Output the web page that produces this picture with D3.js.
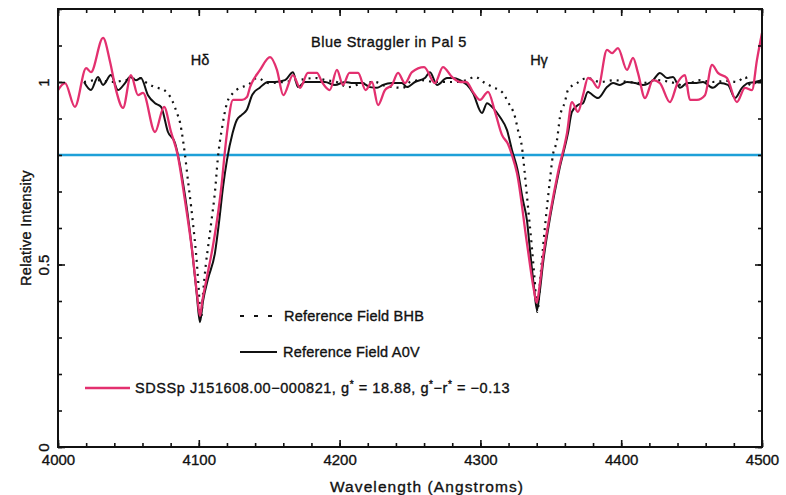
<!DOCTYPE html>
<html>
<head>
<meta charset="utf-8">
<script src="https://cdn.jsdelivr.net/npm/d3@7"></script>
<style>
  body { margin: 0; background: #fff; }
  svg text { font-family: "Liberation Sans", Arial, sans-serif; fill: #111; stroke: #111; stroke-width: 0.35px; }
</style>
</head>
<body>
<svg id="chart" width="786" height="495"></svg>
<script>
// Reference field BHB (dotted)
const bhbWave = [4018.5, 4028, 4038, 4048, 4058.2, 4062, 4068.9, 4075.3, 4081, 4084.5, 4086.6, 4088.8, 4090.2, 4092.3, 4094.5, 4096.5, 4098.5, 4100, 4101.5, 4103, 4105, 4107, 4109, 4111.5, 4113.5, 4116.5, 4120, 4124.3, 4129.3, 4135, 4141.3, 4150, 4160, 4170, 4183, 4190, 4198, 4206, 4215, 4225, 4232, 4245, 4250, 4258, 4268, 4280, 4290, 4296.2, 4303.3, 4308.9, 4316, 4319.6, 4324.6, 4326.7, 4329.5, 4331.5, 4334, 4336.5, 4338.5, 4340.5, 4342.5, 4344.5, 4347.3, 4349.4, 4351.5, 4354.4, 4356.5, 4360, 4362.2, 4368.6, 4376, 4385, 4395, 4405, 4415, 4425, 4435, 4445, 4455, 4465, 4475, 4482, 4488, 4492, 4498, 4500];
const bhbFlux = [1.0, 1.005, 1.0, 1.005, 1.011, 1.0, 0.986, 0.978, 0.95, 0.915, 0.89, 0.84, 0.80, 0.73, 0.66, 0.59, 0.51, 0.43, 0.35, 0.42, 0.50, 0.56, 0.62, 0.70, 0.79, 0.874, 0.942, 0.97, 0.984, 0.992, 1.011, 0.997, 1.0, 1.005, 1.011, 1.005, 1.0, 0.986, 0.995, 1.0, 0.99, 0.984, 1.0, 1.005, 1.0, 1.0, 1.005, 1.014, 0.997, 0.986, 0.970, 0.945, 0.904, 0.868, 0.822, 0.75, 0.65, 0.55, 0.46, 0.37, 0.46, 0.548, 0.658, 0.732, 0.80, 0.841, 0.904, 0.945, 0.978, 0.997, 1.011, 1.0, 1.005, 1.0, 0.997, 1.005, 1.0, 0.99, 1.005, 1.0, 1.003, 1.0, 1.014, 0.99, 1.005, 1.0];

// Reference field A0V (solid black)
const a0vWave = [4018.5, 4023.4, 4028.4, 4032, 4037.6, 4042.6, 4047.6, 4051.1, 4055.4, 4058.9, 4063.9, 4068.9, 4073.2, 4078.1, 4083.1, 4086.6, 4088.1, 4092, 4095.2, 4098.5, 4100.8, 4103, 4106.5, 4111.5, 4114.5, 4117.2, 4120, 4124, 4127, 4130.5, 4134, 4138, 4143.5, 4149.1, 4154.1, 4161.2, 4166.9, 4170.4, 4175.4, 4182.5, 4189.6, 4196.7, 4203.8, 4209.5, 4215.9, 4221.6, 4226.6, 4230.8, 4237.2, 4244.3, 4247.9, 4253.5, 4260.6, 4264.2, 4269.2, 4276.3, 4280.5, 4285.5, 4290.5, 4294.7, 4301.1, 4304.7, 4308.9, 4313.9, 4318.9, 4322.4, 4326.4, 4330, 4333.1, 4335.2, 4338, 4340.2, 4342, 4344.5, 4350, 4356, 4362.2, 4365, 4369.3, 4372.9, 4376.4, 4377.8, 4383.5, 4389.9, 4394.2, 4399.1, 4404.1, 4409.8, 4415.5, 4422.6, 4427.5, 4432.5, 4436.8, 4441.8, 4446.7, 4452.4, 4458.1, 4465.2, 4470.2, 4475.8, 4480.8, 4485.8, 4490, 4495, 4500];
const a0vFlux = [1.0, 0.978, 1.014, 0.992, 1.019, 0.978, 0.997, 1.014, 1.005, 1.011, 0.964, 0.942, 0.932, 0.863, 0.833, 0.773, 0.74, 0.64, 0.54, 0.42, 0.342, 0.40, 0.46, 0.532, 0.62, 0.712, 0.786, 0.86, 0.896, 0.91, 0.923, 0.965, 0.985, 1.0, 1.0, 1.005, 1.027, 0.986, 1.0, 1.0, 1.0, 0.992, 1.0, 0.997, 0.997, 0.986, 0.984, 0.992, 0.997, 0.997, 0.986, 1.0, 1.011, 1.027, 0.992, 1.011, 1.011, 1.005, 0.992, 0.970, 0.915, 0.942, 0.929, 0.904, 0.868, 0.814, 0.759, 0.68, 0.62, 0.54, 0.44, 0.375, 0.42, 0.504, 0.64, 0.759, 0.860, 0.918, 0.937, 0.942, 0.973, 0.970, 0.956, 0.986, 0.997, 0.992, 1.0, 0.997, 0.992, 1.005, 1.025, 1.011, 1.014, 0.984, 0.997, 0.997, 1.0, 0.984, 0.997, 0.992, 0.956, 0.984, 0.997, 1.0, 1.005];

// SDSSp J151608.00-000821 (pink)
const sdssWave = [4000, 4005, 4012, 4020, 4023.4, 4032, 4037, 4041.2, 4046.2, 4051.8, 4056.8, 4060.4, 4068.9, 4075.3, 4080.3, 4085, 4090, 4095.5, 4099, 4100.8, 4102.5, 4106, 4110, 4114, 4116.5, 4118, 4120, 4124.3, 4130.7, 4134.2, 4136.4, 4143.5, 4150.6, 4155.5, 4160, 4166.9, 4171.9, 4177.5, 4183.9, 4187.5, 4193, 4198.1, 4202.4, 4207, 4213.1, 4218.5, 4223, 4227.3, 4232.2, 4237.2, 4241.5, 4246.4, 4251.4, 4260, 4267.7, 4273.4, 4279.8, 4286, 4290, 4294.7, 4299.7, 4305.4, 4310.4, 4315.3, 4319.6, 4322.4, 4326, 4333, 4338, 4340, 4342, 4344.5, 4350, 4355, 4361.5, 4365, 4369.3, 4372.9, 4376.4, 4379.3, 4383.5, 4389.9, 4393.5, 4397.7, 4404.1, 4408.4, 4411.9, 4416.9, 4422.6, 4427.5, 4434.6, 4440.3, 4445.3, 4448.8, 4453.8, 4459.5, 4464.5, 4468.7, 4475.1, 4482.2, 4487.9, 4492.9, 4496.4, 4500];
const sdssFlux = [0.978, 0.997, 0.932, 1.038, 1.027, 1.121, 1.055, 0.978, 0.929, 1.019, 0.964, 0.970, 0.863, 0.932, 0.863, 0.80, 0.68, 0.53, 0.41, 0.359, 0.40, 0.47, 0.55, 0.65, 0.73, 0.79, 0.86, 0.951, 0.951, 0.959, 0.986, 1.033, 1.068, 1.033, 0.964, 1.019, 0.984, 1.025, 1.025, 1.0, 0.978, 1.033, 0.992, 1.025, 1.025, 0.978, 1.0, 0.937, 0.978, 0.992, 1.025, 0.997, 1.027, 1.041, 0.997, 1.041, 1.014, 1.0, 1.0, 0.973, 0.951, 0.973, 0.918, 0.855, 0.83, 0.80, 0.75, 0.56, 0.43, 0.395, 0.44, 0.52, 0.65, 0.75, 0.860, 0.945, 0.918, 0.964, 1.011, 1.005, 0.984, 1.088, 1.079, 1.093, 1.033, 1.066, 1.025, 0.956, 1.005, 0.997, 0.945, 1.0, 1.019, 0.951, 0.951, 0.964, 1.047, 1.025, 1.011, 0.945, 0.984, 0.978, 1.06, 1.134];

const xMajor = [4000, 4100, 4200, 4300, 4400, 4500];
const xMinor = d3.range(4000, 4501, 20);
const yMajor = [0, 0.5, 1];
const yMinor = d3.range(0, 1.21, 0.1);
const cutLevel = 0.8;

const svg = d3.select("#chart");
const plotL = 58, plotR = 762, plotT = 9, plotB = 447;

const x = d3.scaleLinear().domain([4000, 4500]).range([plotL, plotR]);
const y = d3.scaleLinear().domain([0, 1.2]).range([plotB, plotT]);

// blue reference level
svg.append("line")
    .attr("x1", x(4000)).attr("x2", x(4500))
    .attr("y1", y(cutLevel)).attr("y2", y(cutLevel))
    .attr("stroke", "#1ea0d8").attr("stroke-width", 2.6);

const line = d3.line()
    .x(d => x(d[0]))
    .y(d => y(d[1]))
    .curve(d3.curveMonotoneX);

const zip = (a, b) => a.map((v, i) => [v, b[i]]);

svg.append("path")
    .datum(zip(bhbWave, bhbFlux))
    .attr("d", line)
    .attr("fill", "none").attr("stroke", "#111")
    .attr("stroke-width", 2.2).attr("stroke-dasharray", "2,5");

svg.append("path")
    .datum(zip(a0vWave, a0vFlux))
    .attr("d", line)
    .attr("fill", "none").attr("stroke", "#111")
    .attr("stroke-width", 2);

svg.append("path")
    .datum(zip(sdssWave, sdssFlux))
    .attr("d", line)
    .attr("fill", "none").attr("stroke", "#e3306f")
    .attr("stroke-width", 2.3);

// axes, ticks pointing inward on all sides
function styleAxis(g) {
    g.select(".domain").remove();
    g.selectAll(".tick line").attr("stroke", "#111").attr("stroke-width", 1.6);
}

svg.append("g").attr("transform", `translate(0,${plotB})`)
    .call(d3.axisBottom(x).tickValues(xMinor).tickSize(-4).tickFormat(""))
    .call(styleAxis);
const xAx = svg.append("g").attr("transform", `translate(0,${plotB})`)
    .call(d3.axisBottom(x).tickValues(xMajor).tickSize(-7).tickPadding(7).tickFormat(d3.format("d")))
    .call(styleAxis);
xAx.selectAll("text").style("font-size", "15px").attr("fill", "#111");

svg.append("g").attr("transform", `translate(0,${plotT})`)
    .call(d3.axisTop(x).tickValues(xMinor).tickSize(-4).tickFormat(""))
    .call(styleAxis);
svg.append("g").attr("transform", `translate(0,${plotT})`)
    .call(d3.axisTop(x).tickValues(xMajor).tickSize(-7).tickFormat(""))
    .call(styleAxis);

svg.append("g").attr("transform", `translate(${plotL},0)`)
    .call(d3.axisLeft(y).tickValues(yMinor).tickSize(-4).tickFormat(""))
    .call(styleAxis);
const yAx = svg.append("g").attr("transform", `translate(${plotL},0)`)
    .call(d3.axisLeft(y).tickValues(yMajor).tickSize(-7).tickFormat(d => d === 0.5 ? "0.5" : d))
    .call(styleAxis);
yAx.selectAll("text")
    .attr("x", 0).attr("y", -9).attr("dy", 0)
    .attr("transform", "rotate(-90)")
    .attr("text-anchor", "middle")
    .style("font-size", "15px").attr("fill", "#111");

svg.append("g").attr("transform", `translate(${plotR},0)`)
    .call(d3.axisRight(y).tickValues(yMinor).tickSize(-4).tickFormat(""))
    .call(styleAxis);
svg.append("g").attr("transform", `translate(${plotR},0)`)
    .call(d3.axisRight(y).tickValues(yMajor).tickSize(-7).tickFormat(""))
    .call(styleAxis);

// frame
svg.append("rect")
    .attr("x", plotL).attr("y", plotT)
    .attr("width", plotR - plotL).attr("height", plotB - plotT)
    .attr("fill", "none").attr("stroke", "#111").attr("stroke-width", 2);

// titles
svg.append("text")
    .attr("x", 389).attr("y", 47)
    .attr("text-anchor", "middle")
    .style("font-size", "14.5px").style("letter-spacing", "0.5px")
    .text("Blue Straggler in Pal 5");

svg.append("text")
    .attr("x", 200).attr("y", 65)
    .attr("text-anchor", "middle").style("font-size", "14.5px")
    .text("Hδ");
svg.append("text")
    .attr("x", 539).attr("y", 65)
    .attr("text-anchor", "middle").style("font-size", "14.5px")
    .text("Hγ");

svg.append("text")
    .attr("transform", `translate(31,${(plotT + plotB) / 2}) rotate(-90)`)
    .attr("text-anchor", "middle")
    .style("font-size", "14.5px").style("letter-spacing", "0.3px")
    .text("Relative Intensity");

svg.append("text")
    .attr("x", 427).attr("y", 492)
    .attr("text-anchor", "middle")
    .style("font-size", "15.5px").style("letter-spacing", "1.1px")
    .text("Wavelength (Angstroms)");

// legend
const legend = svg.append("g");
legend.append("line")
    .attr("x1", 240).attr("x2", 276).attr("y1", 316).attr("y2", 316)
    .attr("stroke", "#111").attr("stroke-width", 2).attr("stroke-dasharray", "4,10");
legend.append("text")
    .attr("x", 284).attr("y", 321)
    .style("font-size", "14.5px").style("letter-spacing", "0.2px")
    .text("Reference Field BHB");

legend.append("line")
    .attr("x1", 240).attr("x2", 277).attr("y1", 352).attr("y2", 352)
    .attr("stroke", "#111").attr("stroke-width", 2);
legend.append("text")
    .attr("x", 283).attr("y", 357)
    .style("font-size", "14.5px").style("letter-spacing", "0.2px")
    .text("Reference Field A0V");

legend.append("line")
    .attr("x1", 85).attr("x2", 130).attr("y1", 388).attr("y2", 388)
    .attr("stroke", "#e3306f").attr("stroke-width", 2.3);
const sdssLabel = legend.append("text")
    .attr("x", 135).attr("y", 393)
    .style("font-size", "14.5px").style("letter-spacing", "0.55px");
sdssLabel.append("tspan").text("SDSSp J151608.00\u2212000821, g");
sdssLabel.append("tspan").attr("dy", -5).style("font-size", "10px").text("*");
sdssLabel.append("tspan").attr("dy", 5).text(" = 18.88, g");
sdssLabel.append("tspan").attr("dy", -5).style("font-size", "10px").text("*");
sdssLabel.append("tspan").attr("dy", 5).text("\u2212r");
sdssLabel.append("tspan").attr("dy", -5).style("font-size", "10px").text("*");
sdssLabel.append("tspan").attr("dy", 5).text(" = \u22120.13");
</script>
</body>
</html>
